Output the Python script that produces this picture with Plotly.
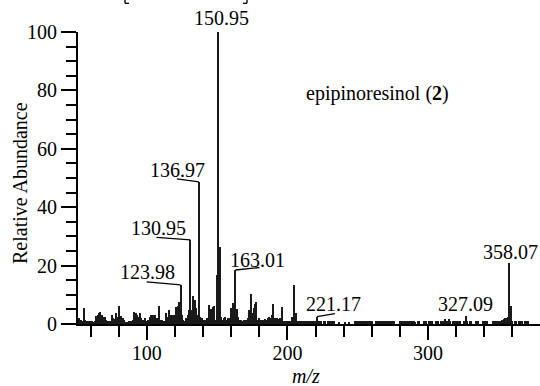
import plotly.graph_objects as go

# ---- data ----
mz_low = list(range(51, 207))
abund_low = [
    1.5, 2.0, 1.5, 1.0, 5.6, 1.5, 1.2, 1.0, 1.0, 1.0,   # 51-60
    1.0, 0.8, 1.0, 2.8, 3.2, 3.6, 4.2, 3.0, 2.5, 2.5,   # 61-70
    1.5, 1.0, 1.0, 1.2, 3.0, 2.0, 1.8, 3.6, 2.5, 6.2,   # 71-80
    2.5, 2.8, 2.0, 1.5, 0.8, 0.8, 1.0, 1.0, 1.2, 1.5,   # 81-90
    4.2, 3.6, 3.0, 2.5, 3.6, 2.0, 1.5, 1.2, 2.0, 1.0,   # 91-100
    1.5, 2.5, 3.0, 3.0, 3.0, 3.0, 2.0, 1.8, 6.2, 1.5,   # 101-110
    1.5, 1.0, 1.0, 3.6, 2.5, 4.8, 3.0, 2.0, 3.0, 3.0,   # 111-120
    5.7, 6.0, 7.4, 13.4, 3.0, 1.5, 1.2, 2.0, 3.0, 4.8,  # 121-130
    28.8, 4.8, 9.6, 8.2, 5.4, 3.0, 48.7, 2.5, 2.0, 1.4, # 131-140
    1.4, 1.5, 2.0, 6.5, 3.0, 5.0, 5.7, 6.2, 1.5, 16.8,  # 141-150
    100.0, 26.5, 2.5, 1.5, 2.0, 2.5, 1.5, 2.0, 2.0, 5.5,  # 151-160
    7.1, 3.0, 18.5, 5.0, 2.5, 1.5, 1.4, 1.2, 1.4, 1.5,  # 161-170
    1.5, 2.0, 4.8, 10.3, 3.6, 5.4, 6.8, 7.4, 1.5, 2.0,  # 171-180
    1.5, 1.5, 1.5, 1.8, 1.5, 2.0, 2.5, 2.0, 3.0, 6.8,   # 181-190
    2.0, 2.0, 2.0, 1.8, 2.0, 5.7, 1.2, 1.0, 1.0, 1.0,   # 191-200
    1.0, 1.2, 2.5, 1.5, 13.4, 3.6,                      # 201-206
]

mz_high = [
    207, 208, 209, 210, 211, 212, 213, 214, 215, 216, 217, 218, 219, 220,
    221, 222, 223, 224, 226, 227, 229, 230, 231, 232, 233, 237, 241, 244,
    248, 249, 250, 252, 253, 254, 255, 257, 258, 259, 260,
    263, 264, 265, 266, 267, 268, 269, 270, 271, 272, 273, 274, 275, 276,
    280, 281, 282, 284, 285, 286, 287, 288, 289, 290, 291, 293, 294,
    297, 298, 299, 301, 302, 303, 306, 307, 309, 310, 311, 312, 313, 314,
    315, 316, 318, 319, 320, 321, 322, 323, 326, 327, 328, 330, 331,
    334, 335, 336, 339, 340, 341, 342, 346, 347, 348, 349, 350, 351, 352,
    353, 354, 355, 356, 357, 358, 359, 360, 362, 363, 365, 366, 367, 369,
    370, 371,
]
abund_high = [
    1.0, 1.0, 0.9, 1.0, 1.0, 0.9, 1.0, 1.0, 1.0, 0.9, 1.0, 1.0, 1.0, 0.9,
    2.5, 1.0, 1.0, 0.9, 1.0, 0.9, 1.0, 1.0, 1.0, 0.9, 1.0, 0.8, 0.8, 0.8,
    1.0, 1.0, 0.9, 1.0, 1.0, 1.0, 0.9, 1.0, 1.0, 0.9, 1.0,
    1.0, 1.0, 1.0, 1.0, 1.0, 1.0, 0.9, 1.0, 1.0, 1.0, 1.0, 0.9, 1.0, 1.0,
    1.0, 1.2, 0.9, 1.0, 1.0, 1.0, 1.0, 0.9, 1.0, 1.0, 0.8, 1.0, 0.9,
    1.0, 1.0, 0.9, 1.0, 1.0, 1.0, 1.0, 0.9, 1.0, 1.0, 1.0, 1.6, 1.0, 0.9,
    1.8, 1.0, 1.0, 1.0, 1.0, 0.9, 1.0, 1.0, 1.0, 2.9, 1.0, 1.0, 0.9,
    1.0, 0.9, 1.0, 1.0, 1.0, 1.2, 0.9, 1.0, 1.0, 1.0, 1.0, 1.0, 1.2, 1.0,
    1.4, 1.8, 2.0, 2.2, 2.5, 20.8, 6.2, 1.0, 1.0, 1.0, 1.0, 0.9, 1.0, 1.0,
    1.0, 0.9,
]

mz_values = mz_low + mz_high
abundance = abund_low + abund_high

# labelled peaks
peak_mz = [124, 131, 137, 151, 163, 221, 327, 358]
peak_labels = ["123.98", "130.95", "136.97", "150.95", "163.01", "221.17", "327.09", "358.07"]

x_ticks = [100, 200, 300]
y_ticks = [0, 20, 40, 60, 80, 100]

compound_name = "epipinoresinol (<b>2</b>)"
x_title = "<i>m/z</i>"
y_title = "Relative Abundance"

# ---- styling (positions / offsets in pixels) ----
FONT = "Liberation Serif, Times New Roman, DejaVu Serif, serif"
label_shift = {  # xshift, yshift of label text
    124: (-33, 13), 131: (-32, 12), 137: (-21, 12), 151: (3, 14),
    163: (22, 10), 221: (17, 13), 327: (0, 12), 358: (1, 11),
}
leader = {  # pixel offset of leader end from peak top
    124: (-34, 3), 131: (-34, 2.5), 137: (-22, 3), 163: (24, 2.5), 221: (18, 3),
}

lookup = dict(zip(mz_values, abundance))

fig = go.Figure()
fig.add_trace(go.Bar(
    x=mz_values, y=abundance, width=0.85,
    marker=dict(color="#1a1a1a", line=dict(width=0)),
    showlegend=False, hoverinfo="x+y",
))

annotations = []
shapes = []
for m, lab in zip(peak_mz, peak_labels):
    h = lookup[m]
    xs, ys = label_shift[m]
    annotations.append(dict(
        x=m, y=h, xref="x", yref="y", text=lab, showarrow=False,
        xanchor="center", yanchor="middle", xshift=xs, yshift=ys,
        font=dict(family=FONT, size=20, color="black"),
    ))
    if m in leader:
        lx, ly = leader[m]
        shapes.append(dict(
            type="line", xref="x", yref="y", xsizemode="pixel", ysizemode="pixel",
            xanchor=m, yanchor=h, x0=0, y0=0, x1=lx, y1=ly,
            line=dict(color="black", width=1.3),
        ))

annotations.append(dict(
    x=0.649, y=0.791, xref="paper", yref="paper", text=compound_name, showarrow=False,
    xanchor="center", yanchor="middle", font=dict(family=FONT, size=20, color="black"),
))
annotations.append(dict(
    x=-0.1255, y=0.483, xref="paper", yref="paper", text=y_title, showarrow=False,
    textangle=-90, xanchor="center", yanchor="middle",
    font=dict(family=FONT, size=20, color="black"),
))
annotations.append(dict(
    x=0.493, y=-0.178, xref="paper", yref="paper", text=x_title, showarrow=False,
    xanchor="center", yanchor="middle", font=dict(family=FONT, size=20, color="black"),
))

# bottoms of the cut-off brackets at the top edge
def px(xp):
    return (xp - 78) / 462.0

def py(yp):
    return (324 - yp) / 292.0

for xb, xf in [(125, 129), (247, 243)]:
    shapes.append(dict(type="line", xref="paper", yref="paper",
                       x0=px(xb), x1=px(xb), y0=py(-2), y1=py(3.3),
                       line=dict(color="black", width=1.3)))
    shapes.append(dict(type="line", xref="paper", yref="paper",
                       x0=px(xb), x1=px(xf), y0=py(3.3), y1=py(3.3),
                       line=dict(color="black", width=1.3)))

fig.update_layout(
    width=540, height=386,
    margin=dict(l=78, r=0, t=32, b=62),
    plot_bgcolor="white", paper_bgcolor="white",
    font=dict(family=FONT, size=20, color="black"),
    bargap=0,
    annotations=annotations,
    shapes=shapes,
)
fig.update_xaxes(
    range=[51, 379.7], showline=True, linecolor="black", linewidth=2,
    showgrid=False, zeroline=False,
    tickmode="array", tickvals=x_ticks, ticks="outside", ticklen=14, tickwidth=2,
    tickcolor="black", tickfont=dict(family=FONT, size=20, color="black"),
    ticklabelstandoff=-4,
    minor=dict(dtick=20, tick0=0, ticks="outside", ticklen=11, tickwidth=2,
               tickcolor="black", showgrid=False),
)
fig.update_yaxes(
    range=[0, 100], showline=True, linecolor="black", linewidth=2,
    showgrid=False, zeroline=False,
    tickmode="array", tickvals=y_ticks, ticks="outside", ticklen=15, tickwidth=2,
    tickcolor="black", tickfont=dict(family=FONT, size=20, color="black"),
    minor=dict(dtick=5, tick0=0, ticks="outside", ticklen=10, tickwidth=2,
               tickcolor="black", showgrid=False),
)

fig.write_html("out.html")
